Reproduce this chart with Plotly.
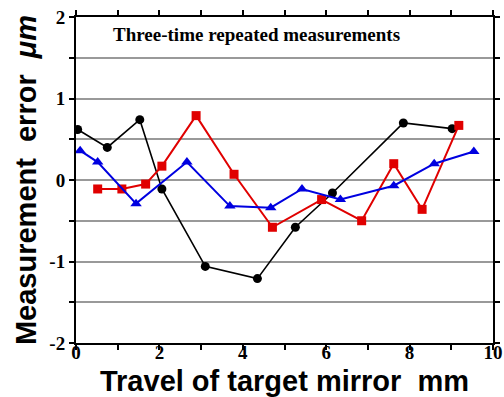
import plotly.graph_objects as go

# Series 1 (black circles)
x_black = [0.04, 0.75, 1.53, 2.06, 3.10, 4.35, 5.26, 6.15, 7.85, 9.02]
y_black = [0.62, 0.40, 0.74, -0.11, -1.06, -1.21, -0.58, -0.16, 0.70, 0.63]

# Series 2 (red squares)
x_red = [0.52, 1.10, 1.67, 2.06, 2.88, 3.79, 4.71, 5.89, 6.85, 7.62, 8.30, 9.18]
y_red = [-0.11, -0.11, -0.05, 0.17, 0.79, 0.07, -0.58, -0.24, -0.50, 0.20, -0.36, 0.67]

# Series 3 (blue triangles)
x_blue = [0.10, 0.52, 1.44, 2.66, 3.69, 4.67, 5.42, 6.34, 7.62, 8.59, 9.54]
y_blue = [0.36, 0.22, -0.29, 0.22, -0.32, -0.34, -0.11, -0.24, -0.07, 0.20, 0.35]

x_ticks = [0, 2, 4, 6, 8, 10]
y_ticks = [-2, -1, 0, 1, 2]

fig = go.Figure()
fig.add_trace(go.Scatter(x=x_black, y=y_black, mode="lines+markers",
                         line=dict(color="black", width=1.6),
                         marker=dict(symbol="circle", size=9, color="black")))
fig.add_trace(go.Scatter(x=x_red, y=y_red, mode="lines+markers",
                         line=dict(color="#e00000", width=2),
                         marker=dict(symbol="square", size=9, color="#e00000")))
fig.add_trace(go.Scatter(x=x_blue, y=y_blue, mode="lines+markers",
                         line=dict(color="#0000e0", width=2),
                         marker=dict(symbol="triangle-up", size=10, color="#0000e0")))

tickfont = dict(family="Liberation Serif", size=19, color="black", weight="bold")
titlefont = dict(family="Liberation Sans", size=29, color="black", weight="bold")

fig.update_layout(
    width=504, height=397,
    margin=dict(l=76, r=11, t=17, b=54),
    paper_bgcolor="white", plot_bgcolor="white",
    showlegend=False,
    xaxis=dict(range=[0, 10], tickvals=x_ticks, ticktext=[str(v) for v in x_ticks],
               automargin=False,
               showgrid=False, zeroline=False,
               showline=True, linecolor="black", linewidth=2, mirror="allticks",
               ticks="outside", ticklen=5, tickwidth=2, tickcolor="black",
               ticklabelstandoff=-14,
               minor=dict(dtick=1, ticks="outside", ticklen=5, tickwidth=2, tickcolor="black"),
               tickfont=tickfont,
               title=dict(text="Travel of target mirror  mm", font=titlefont, standoff=10)),
    yaxis=dict(range=[-2, 2], tickvals=y_ticks, ticktext=[str(v) for v in y_ticks],
               automargin=False,
               showgrid=True, gridcolor="#999999", gridwidth=2, zeroline=False,
               showline=True, linecolor="black", linewidth=2, mirror="allticks",
               ticks="outside", ticklen=5, tickwidth=2, tickcolor="black",
               minor=dict(dtick=0.5, ticks="outside", ticklen=5, tickwidth=2, tickcolor="black",
                          showgrid=True, gridcolor="#999999", gridwidth=2),
               tickfont=tickfont,
               title=dict(text="Measurement  error  <i>μm</i>", font=titlefont, standoff=4)),
)

fig.add_annotation(x=0.84, y=1.79, xref="x", yref="y", xanchor="left", yanchor="middle",
                   text="Three-time repeated measurements", showarrow=False,
                   font=dict(family="Liberation Serif", size=19, color="black", weight="bold"))

fig.write_html("out.html", config={"displayModeBar": False},
               post_script="document.body.style.margin='0';document.body.style.overflow='hidden';")
